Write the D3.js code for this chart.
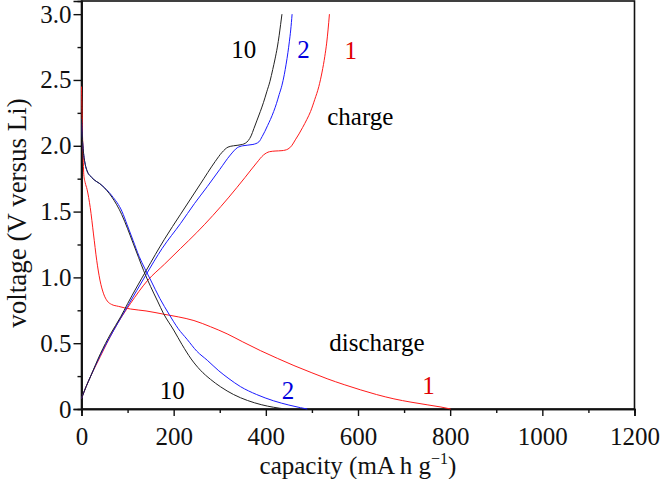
<!DOCTYPE html>
<html>
<head>
<meta charset="utf-8">
<script src="https://cdn.jsdelivr.net/npm/d3@7"></script>
<style>
html,body{margin:0;padding:0;background:#fff;}
svg, svg text{font-family:"Liberation Serif","Times New Roman",serif !important;}
</style>
</head>
<body>
<svg id="chart" width="660" height="479"></svg>
<script>
// ---- data (capacity mA h g^-1, voltage V) ----
const xTicks = [0, 200, 400, 600, 800, 1000, 1200];
const yTicks = [0, 0.5, 1.0, 1.5, 2.0, 2.5, 3.0];

const discharge1 = [[0,2.45],[1,2.3],[2,2.1],[3,2.0],[5,1.78],[8,1.72],[12,1.67],[19,1.53],[26,1.33],[33,1.13],[40,0.98],[48,0.875],[56,0.82],[65,0.795],[80,0.78],[106,0.76],[140,0.745],[179,0.72],[210,0.70],[244,0.672],[280,0.625],[316,0.571],[350,0.51],[388,0.444],[425,0.385],[461,0.33],[500,0.275],[533,0.23],[570,0.185],[605,0.146],[640,0.11],[678,0.077],[715,0.052],[750,0.032],[780,0.015],[801,0]];
const discharge2 = [[0,2.2],[2,2.05],[4,1.96],[8,1.86],[12,1.81],[22,1.76],[44,1.70],[66,1.62],[88,1.5],[99,1.40],[112,1.28],[125,1.16],[137,1.07],[150,0.98],[170,0.84],[190,0.72],[210,0.61],[229,0.53],[250,0.44],[273,0.37],[298,0.29],[320,0.23],[345,0.17],[380,0.11],[417,0.062],[450,0.03],[475,0.01],[490,0]];
const discharge10 = [[0,2.2],[2,2.05],[4,1.96],[8,1.86],[12,1.81],[22,1.76],[44,1.70],[66,1.61],[87,1.48],[100,1.37],[112,1.26],[124,1.15],[135,1.05],[150,0.93],[165,0.82],[178,0.725],[200,0.6],[218,0.49],[238,0.38],[258,0.295],[280,0.225],[302,0.168],[330,0.11],[360,0.065],[390,0.033],[417,0.013],[443,0]];
const charge1 = [[0,0.08],[10,0.17],[20,0.25],[41,0.40],[55,0.5],[70,0.6],[106,0.80],[143,0.975],[180,1.10],[215,1.22],[250,1.34],[285,1.47],[320,1.61],[355,1.76],[380,1.87],[395,1.93],[408,1.955],[420,1.96],[435,1.963],[448,1.975],[456,2.0],[464,2.045],[472,2.09],[480,2.14],[489,2.2],[497,2.26],[506,2.35],[515,2.45],[522,2.56],[528,2.68],[532,2.78],[535,2.88],[538,3.0]];
const charge2 = [[0,0.08],[10,0.17],[20,0.25],[41,0.41],[63,0.555],[85,0.69],[100,0.78],[140,1.02],[175,1.22],[215,1.41],[245,1.56],[273,1.69],[300,1.82],[323,1.93],[338,1.985],[350,2.0],[372,2.01],[385,2.03],[392,2.07],[398,2.11],[404,2.155],[410,2.2],[417,2.26],[423,2.32],[429,2.39],[435,2.46],[440,2.54],[444,2.62],[448,2.71],[451,2.79],[454,2.88],[457,3.0]];
const charge10 = [[0,0.08],[10,0.17],[20,0.25],[41,0.42],[63,0.57],[85,0.70],[100,0.80],[140,1.05],[180,1.29],[215,1.48],[258,1.71],[290,1.88],[305,1.95],[318,1.99],[330,2.0],[349,2.01],[362,2.04],[368,2.075],[374,2.13],[381,2.195],[388,2.26],[395,2.33],[402,2.41],[409,2.49],[415,2.58],[420,2.66],[425,2.75],[429,2.84],[432,2.92],[435,3.0]];

const seriesColors = {c1:"#ff1a1a", c2:"#1a1aff", c10:"#222222"};

const curveLabels = [
  {text:"10", x:352, y:2.67, color:"#000"},
  {text:"2", x:482, y:2.667, color:"#0000dd"},
  {text:"1", x:584, y:2.66, color:"#e00000"},
  {text:"charge", x:605, y:2.16, color:"#000"},
  {text:"discharge", x:641, y:0.44, color:"#000"},
  {text:"10", x:197, y:0.077, color:"#000"},
  {text:"2", x:448, y:0.077, color:"#0000dd"},
  {text:"1", x:753, y:0.115, color:"#e00000"}
];

// ---- layout ----
const svg = d3.select("#chart");
const L = 81.5, R = 634.5, T = 1, B = 409;
const x = d3.scaleLinear().domain([0,1200]).range([L,R]);
const y = d3.scaleLinear().domain([0,3.1]).range([B,T]);

// frame
svg.append("rect").attr("x",L).attr("y",T).attr("width",R-L).attr("height",B-T)
  .attr("fill","none").attr("stroke","#111").attr("stroke-width",1.6);

// axes
const fmtY = d => d===0 ? "0" : d3.format(".1f")(d);
const yAx = svg.append("g").attr("transform",`translate(${L},0)`)
  .call(d3.axisLeft(y).tickValues(yTicks).tickFormat(fmtY).tickSize(8).tickPadding(2));
const yMinor = svg.append("g").attr("transform",`translate(${L},0)`)
  .call(d3.axisLeft(y).tickValues(d3.range(0.25,3.0,0.5)).tickFormat("").tickSize(4));
const xAx = svg.append("g").attr("transform",`translate(0,${B})`)
  .call(d3.axisBottom(x).tickValues(xTicks).tickFormat(d3.format("d")).tickSize(7).tickPadding(11));
const xMinor = svg.append("g").attr("transform",`translate(0,${B})`)
  .call(d3.axisBottom(x).tickValues(d3.range(100,1200,200)).tickFormat("").tickSize(4));
[yAx,yMinor,xAx,xMinor].forEach(g=>{
  g.attr("font-family",null);
  g.select(".domain").attr("stroke","#111").attr("stroke-width",1.6);
  g.selectAll(".tick line").attr("stroke","#111").attr("stroke-width",1.4);
  g.selectAll(".tick text").attr("font-size",25).attr("fill","#111");
});

// axis titles
const xt = svg.append("text").attr("x",358).attr("y",474).attr("text-anchor","middle")
  .attr("font-size",25).attr("fill","#111");
xt.append("tspan").text("capacity (mA h g");
xt.append("tspan").attr("font-size",16).attr("dy",-10).text("\u22121");
xt.append("tspan").attr("dy",10).text(")");

svg.append("text").attr("transform",`translate(26,213) rotate(-90)`)
  .attr("text-anchor","middle").attr("font-size",27).attr("fill","#111")
  .text("voltage (V versus Li)");

// curves
const line = d3.line().x(d=>x(d[0])).y(d=>y(d[1])).curve(d3.curveMonotoneX);
const series = [
  {d:discharge1,c:seriesColors.c1},{d:charge1,c:seriesColors.c1},
  {d:discharge2,c:seriesColors.c2},{d:charge2,c:seriesColors.c2},
  {d:discharge10,c:seriesColors.c10},{d:charge10,c:seriesColors.c10}
];
svg.append("g").selectAll("path").data(series).join("path")
  .attr("d",s=>line(s.d)).attr("fill","none").attr("stroke",s=>s.c).attr("stroke-width",1);

// curve labels
svg.append("g").selectAll("text").data(curveLabels).join("text")
  .attr("x",d=>x(d.x)).attr("y",d=>y(d.y)).attr("text-anchor","middle")
  .attr("font-size",25).attr("fill",d=>d.color).text(d=>d.text);
</script>
</body>
</html>
